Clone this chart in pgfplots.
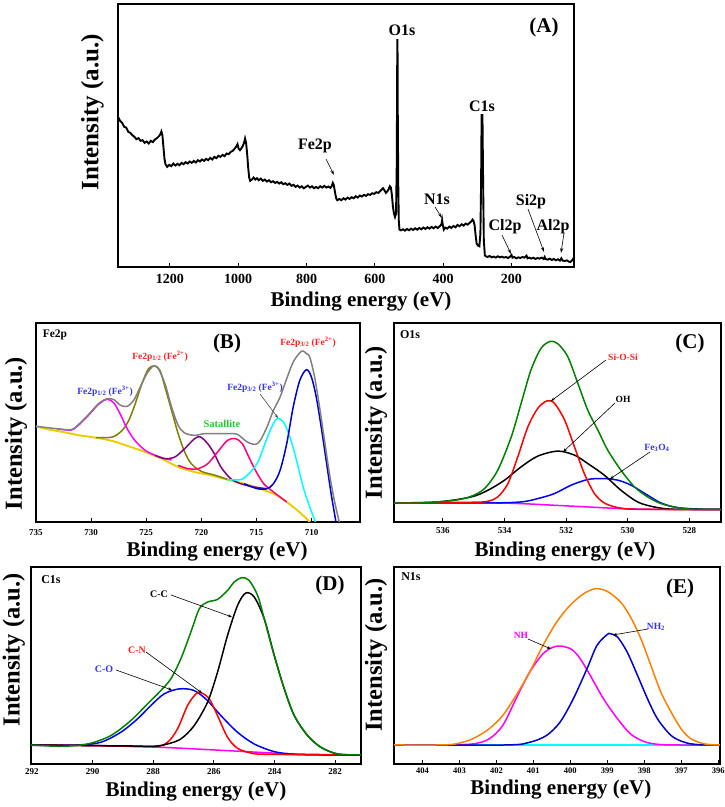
\documentclass[border=0pt]{standalone}
\usepackage{fontspec}
\setmainfont{Liberation Serif}
\usepackage{pgfplots}
\pgfplotsset{compat=1.18}
\usetikzlibrary{arrows.meta}

\definecolor{cgray}{RGB}{128,128,128}
\definecolor{colive}{RGB}{128,128,0}
\definecolor{cmag}{RGB}{255,0,255}
\definecolor{cpurple}{RGB}{128,0,128}
\definecolor{cpink}{RGB}{255,0,128}
\definecolor{ccyan}{RGB}{0,255,255}
\definecolor{cdblue}{RGB}{0,0,205}
\definecolor{cyel}{RGB}{238,205,0}
\definecolor{cgreen}{RGB}{0,128,0}
\definecolor{cred}{RGB}{255,0,0}
\definecolor{cblue}{RGB}{0,0,255}
\definecolor{corange}{RGB}{255,128,0}
\definecolor{lblue}{RGB}{50,50,255}
\definecolor{lred}{RGB}{255,30,30}
\definecolor{lgreen}{RGB}{40,200,40}

\pgfplotsset{
  panel/.style={
    scale only axis, anchor=south west,
    x dir=reverse, ytick=\empty,
    axis line style={line width=2.8pt},
    tick align=inside, xtick pos=bottom,
    major tick length=4pt, tick style={black, line width=1pt},
    /pgf/number format/assume math mode=true,
    /pgf/number format/set thousands separator={},
    xlabel={Binding energy (eV)}, ylabel={Intensity (a.u.)},
    xlabel style={font=\bfseries\fontsize{21}{24}\selectfont},
    ylabel style={font=\bfseries\fontsize{24.5}{27}\selectfont},
    ticklabel style={font=\bfseries\fontsize{9}{10}\selectfont},
    every axis plot/.append style={line width=1.5pt, mark=none},
  }
}

\begin{document}
\begin{tikzpicture}[x=1pt,y=1pt]
\path[use as bounding box] (0,0) rectangle (724,807);

% ---------------- (A) survey ----------------
\begin{axis}[panel, at={(118pt,540pt)}, width=456pt, height=263pt,
  xmin=17, xmax=1352, ymin=0, ymax=788,
  xtick={200,400,...,1200},
  ticklabel style={font=\bfseries\fontsize{14}{16}\selectfont},
  xticklabel style={yshift=-3.5pt},
  xlabel style={at={(axis description cs:0.533,0)}, anchor=center, yshift=-35pt},
  ylabel style={at={(axis description cs:-0.056,0.589)}, anchor=center, font=\bfseries\fontsize{25}{28}\selectfont},
]
\addplot[black, line width=1.9pt] coordinates {
(1352,450) (1346,438) (1340,432) (1334,420) (1328,418) (1322,405) (1316,402) (1310,395)
(1304,390) (1298,383) (1292,386) (1286,378) (1280,380) (1274,372) (1268,376) (1262,370)
(1256,378) (1250,374) (1244,382) (1238,386) (1232,392) (1228,398) (1225,406) (1222,395)
(1219,360) (1216,325) (1213,308) (1208,300) (1202,306) (1196,302) (1190,310) (1184,304)
(1178,309) (1172,305) (1166,312) (1160,308) (1154,314) (1148,310) (1142,316) (1136,312)
(1130,318) (1124,313) (1118,320) (1112,316) (1106,322) (1100,318) (1094,324) (1088,320)
(1082,327) (1076,322) (1070,330) (1064,326) (1058,333) (1052,330) (1046,336) (1040,332)
(1034,340) (1028,338) (1022,345) (1016,348) (1010,355) (1005,362) (1002,368) (999,355)
(995,350) (991,355) (987,362) (983,372) (980,385) (977,372) (974,340) (971,300)
(968,268) (965,258) (960,262) (955,268) (950,262) (945,266) (940,260) (934,265)
(928,258) (922,262) (916,256) (910,260) (904,254) (898,257) (892,252) (886,255)
(880,250) (874,254) (868,248) (862,251) (856,246) (850,250) (844,243) (838,246)
(832,240) (826,244) (820,238) (814,242) (808,236) (802,240) (796,244) (790,238)
(784,242) (778,236) (772,240) (766,236) (760,242) (754,238) (748,243) (742,238)
(736,241) (730,237) (726,243) (723,252) (721,248) (719,238) (716,220) (713,205)
(710,200) (704,204) (698,200) (692,206) (686,202) (680,208) (674,204) (668,209)
(662,206) (656,212) (650,208) (644,214) (638,211) (632,216) (626,213) (620,218)
(614,216) (608,221) (602,219) (596,224) (590,222) (584,228) (580,232) (576,236)
(572,230) (568,222) (564,226) (560,232) (556,242) (553,238) (550,215) (547,180)
(544,160) (541,150) (538,160) (536,300) (535,500) (534.3,680) (533.7,680) (533,480)
(531.5,250) (530,140) (528,112) (524,110) (518,113) (512,109) (506,114) (500,110)
(494,115) (488,111) (482,116) (476,112) (470,117) (464,113) (458,118) (452,114)
(446,119) (440,115) (434,120) (428,116) (422,121) (416,117) (410,122) (405,128)
(403,140) (401,125) (398,112) (394,118) (388,115) (382,121) (376,117) (370,123)
(364,119) (358,126) (352,122) (346,128) (340,124) (334,130) (328,127) (322,133)
(318,136) (314,142) (311,138) (308,125) (305,95) (302,70) (298,64) (294,62)
(291,100) (289,250) (287.5,455) (285,455) (283,250) (281,80) (278,35) (275,32)
(270,30) (264,33) (258,29) (252,31) (246,28) (240,32) (234,29) (228,31)
(222,28) (216,30) (210,27) (204,31) (200,36) (197,28) (192,30) (186,26)
(180,29) (174,27) (168,30) (162,28) (156,34) (153,26) (148,28) (142,25)
(136,28) (130,24) (124,27) (118,25) (112,28) (106,24) (103,30) (100,24)
(94,22) (88,25) (82,21) (76,24) (70,20) (64,23) (58,19) (54,26)
(50,19) (44,18) (38,20) (32,16) (28,15) (24,18) (20,24) (17,28)
};
\end{axis}

% ---------------- (B) Fe2p ----------------
\begin{axis}[panel, at={(36pt,285pt)}, width=324pt, height=199pt,
  xmin=705.6, xmax=735, ymin=0, ymax=597,
  xtick={710,715,...,735},
  xticklabel style={yshift=-4pt},
  xlabel style={at={(axis description cs:0.559,0)}, anchor=center, yshift=-30pt},
  ylabel style={at={(axis description cs:-0.062,0.445)}, anchor=center},
  every axis plot/.append style={smooth},
]
\addplot[cyel, line width=1.9pt] coordinates {
(735.00,287) (733.75,277) (732.55,270) (731.06,260) (729.57,253) (728.07,243) (726.58,227)
(725.09,210) (723.60,190) (722.10,165) (720.61,150) (719.12,140) (717.63,127) (716.13,115)
(714.64,100) (713.15,80) (712.25,60) (711.36,37) (710.61,15) (710.16,0)};
\addplot[colive] coordinates {
(729.57,253) (728.07,255) (727.18,275) (726.58,305) (725.99,355) (725.39,415) (724.79,460)
(724.25,468) (723.75,455) (723.30,405) (722.70,335) (722.10,265) (721.51,210) (720.91,175)
(720.01,152) (718.82,141) (717.63,128)};
\addplot[cmag] coordinates {
(733.15,280) (731.81,276) (731.06,293) (730.16,323) (729.27,355) (728.52,368) (727.93,357)
(727.33,322) (726.73,280) (725.99,243) (725.09,215) (724.19,200) (723.30,190) (722.70,186)};
\addplot[cpurple] coordinates {
(724.19,200) (723.30,190) (722.40,195) (721.51,220) (720.61,250) (720.07,255) (719.42,235)
(718.82,205) (718.22,165) (717.33,130) (716.43,115) (715.24,105) (714.04,100)};
\addplot[cpink] coordinates {
(722.10,170) (721.21,160) (720.31,160) (719.42,175) (718.52,210) (717.63,245) (716.88,250)
(716.28,235) (715.69,195) (715.09,155) (714.34,115) (713.45,90) (712.25,60)};
\addplot[ccyan] coordinates {
(717.63,127) (716.43,127) (715.84,140) (714.94,175) (714.34,225) (713.75,275) (713.15,310)
(712.55,300) (711.96,255) (711.36,185) (710.76,105) (710.16,45) (709.63,0)};
\addplot[cdblue] coordinates {
(716.13,115) (714.94,100) (714.04,100) (713.45,115) (712.85,155) (712.25,235) (711.66,345)
(711.06,425) (710.46,457) (710.01,435) (709.57,375) (709.12,285) (708.67,185) (708.22,85)
(707.78,0)};
\addplot[cgray] coordinates {
(735.00,287) (733.15,280) (731.81,277) (731.06,295) (730.16,325) (729.27,357) (728.52,370)
(727.93,367) (727.33,350) (726.73,347) (726.13,365) (725.54,405) (724.94,445) (724.34,468)
(723.90,460) (723.30,415) (722.70,345) (722.10,290) (721.51,267) (720.61,260) (719.72,265)
(718.82,265) (717.63,265) (716.73,263) (715.84,240) (715.09,233) (714.64,245) (714.04,285)
(713.45,335) (712.85,375) (712.25,430) (711.66,480) (711.06,508) (710.76,513) (710.46,505)
(710.16,495) (709.72,435) (709.27,345) (708.82,245) (708.37,145) (707.93,65) (707.48,0)};
\end{axis}

% ---------------- (C) O1s ----------------
\begin{axis}[panel, at={(394pt,285pt)}, width=327pt, height=199pt,
  xmin=526.97, xmax=537.59, ymin=0, ymax=595,
  xtick={528,530,...,536},
  xticklabel style={yshift=-2pt},
  xlabel style={at={(axis description cs:0.523,0)}, anchor=center, yshift=-30pt},
  ylabel style={at={(axis description cs:-0.055,0.50)}, anchor=center},
  every axis plot/.append style={smooth},
]
\addplot[cmag] coordinates {
(537.59,57) (534.54,57) (533.46,55) (532.38,50) (531.30,45) (530.22,40) (529.14,38) (526.97,37)};
\addplot[cblue] coordinates {
(537.59,57) (534.54,57) (533.46,60) (532.92,70) (532.38,85) (531.84,110) (531.30,127)
(530.81,130) (530.32,125) (529.89,110) (529.35,80) (528.92,57) (528.38,43) (527.51,38) (526.97,38)};
\addplot[black] coordinates {
(537.59,57) (536.16,60) (535.08,75) (534.54,95) (534.00,125) (533.46,165) (532.92,197)
(532.27,212) (531.73,200) (531.30,175) (530.76,140) (530.22,95) (529.68,60) (529.14,45)
(528.49,38) (526.97,38)};
\addplot[cred] coordinates {
(537.59,57) (535.08,59) (534.54,62) (534.22,75) (533.89,115) (533.57,195) (533.24,285)
(532.92,340) (532.62,362) (532.38,355) (532.05,305) (531.73,225) (531.41,145) (531.08,85)
(530.76,57) (530.32,43) (529.68,38) (526.97,37)};
\addplot[cgreen] coordinates {
(537.59,57) (536.70,57) (535.62,65) (535.08,77) (534.65,100) (534.22,155) (533.78,255)
(533.46,355) (533.14,455) (532.81,520) (532.51,540) (532.27,533) (531.95,495) (531.62,415)
(531.30,335) (530.97,275) (530.65,215) (530.22,155) (529.78,105) (529.35,75) (528.92,55)
(528.38,43) (527.84,38) (526.97,38)};
\end{axis}

% ---------------- (D) C1s ----------------
\begin{axis}[panel, at={(31pt,43pt)}, width=330pt, height=197pt,
  xmin=281.15, xmax=292.03, ymin=0, ymax=590,
  xtick={282,284,...,292},
  xticklabel style={yshift=-1pt},
  xlabel style={at={(axis description cs:0.5,0)}, anchor=center, yshift=-28pt},
  ylabel style={at={(axis description cs:-0.052,0.579)}, anchor=center},
  every axis plot/.append style={smooth},
]
\addplot[cmag] coordinates {
(292.03,57) (289.95,55) (287.75,50) (285.55,40) (283.35,30) (281.15,27)};
\addplot[cblue] coordinates {
(292.03,56) (290.49,57) (289.73,65) (289.07,95) (288.52,135) (288.08,175) (287.64,210)
(287.14,225) (286.65,220) (286.21,190) (285.77,145) (285.22,95) (284.67,60) (284.01,37)
(283.35,29) (282.47,27) (281.15,27)};
\addplot[cred] coordinates {
(292.03,57) (289.95,55) (287.97,53) (287.53,65) (287.20,105) (286.87,175) (286.59,210)
(286.41,213) (286.15,195) (285.88,145) (285.55,80) (285.22,47) (284.78,33) (284.23,29) (281.15,27)};
\addplot[black] coordinates {
(292.03,57) (289.95,55) (288.74,54) (287.97,53) (287.53,60) (287.09,75) (286.65,115)
(286.21,185) (285.88,275) (285.55,385) (285.22,475) (284.95,512) (284.67,500) (284.34,435)
(284.01,325) (283.68,225) (283.35,145) (282.91,85) (282.47,50) (281.92,30) (281.15,27)};
\addplot[cgreen] coordinates {
(292.03,57) (291.04,53) (290.16,60) (289.40,85) (288.74,130) (288.19,180) (287.75,220)
(287.42,255) (287.09,315) (286.76,395) (286.48,465) (286.21,485) (285.88,493) (285.55,520)
(285.33,545) (285.08,558) (284.84,550) (284.56,505) (284.34,435) (284.01,325) (283.68,225)
(283.35,145) (282.91,85) (282.47,50) (281.92,30) (281.15,27)};
\end{axis}

% ---------------- (E) N1s ----------------
\begin{axis}[panel, at={(394pt,43pt)}, width=326pt, height=197pt,
  xmin=395.95, xmax=404.77, ymin=0, ymax=590,
  xtick={396,397,...,404},
  ticklabel style={font=\bfseries\fontsize{8.5}{10}\selectfont},
  xlabel style={at={(axis description cs:0.512,0)}, anchor=center, yshift=-26pt},
  ylabel style={at={(axis description cs:-0.055,0.553)}, anchor=center},
  every axis plot/.append style={smooth},
]
\addplot[ccyan] coordinates {(404.77,57) (395.95,57)};
\addplot[cmag] coordinates {
(404.77,57) (403.56,57) (402.65,60) (402.20,75) (401.83,115) (401.47,195) (401.10,275)
(400.74,330) (400.46,350) (400.24,353) (399.96,343) (399.73,315) (399.46,265) (399.10,195)
(398.72,135) (398.37,90) (398.00,67) (397.64,59) (397.18,57) (395.95,57)};
\addplot[cdblue] coordinates {
(404.77,57) (401.74,57) (401.10,65) (400.65,85) (400.28,125) (399.92,195) (399.55,285)
(399.28,355) (399.00,388) (398.91,390) (398.72,380) (398.46,335) (398.18,265) (397.91,195)
(397.64,135) (397.27,85) (396.91,65) (396.54,58) (395.95,57)};
\addplot[corange] coordinates {
(404.77,57) (403.56,57) (403.11,60) (402.65,75) (402.20,105) (401.83,145) (401.47,205)
(401.10,275) (400.74,355) (400.37,425) (400.01,475) (399.64,510) (399.32,525) (399.00,517)
(398.64,485) (398.37,440) (398.09,375) (397.82,295) (397.55,215) (397.27,155) (397.00,105)
(396.73,75) (396.36,60) (395.95,57)};
\end{axis}

% ---------------- annotations ----------------
\begin{scope}[every node/.style={font=\bfseries\fontsize{16}{18}\selectfont, inner sep=0pt}]
\node at (544,780) {\fontsize{21}{23}\selectfont (A)};
\node at (402,777) {O1s};
\node at (482,701) {C1s};
\node at (315,661) {Fe2p};
\node at (437,608) {N1s};
\node at (505,580) {Cl2p};
\node at (531,605) {Si2p};
\node at (553,580) {Al2p};
\end{scope}
\begin{scope}[line width=0.6pt, -{Stealth[length=5pt,width=3pt]}]
\draw (326,648) -- (334,632);
\draw (435,600) -- (442,589);
\draw (502,572) -- (511,553);
\draw (528,598) -- (544,555);
\draw (564,574) -- (561,554);
\end{scope}

% B
\begin{scope}[every node/.style={font=\bfseries\fontsize{9.5}{11}\selectfont, inner sep=0pt}]
\node at (55,472) {\fontsize{11.5}{13}\selectfont Fe2p};
\node at (227,464) {\fontsize{21}{23}\selectfont (B)};
\node[text=lblue] at (105,416) {Fe2p\textsubscript{1/2} (Fe\textsuperscript{3+})};
\node[text=lred] at (160,451) {Fe2p\textsubscript{1/2} (Fe\textsuperscript{2+})};
\node[text=lblue] at (255,420) {Fe2p\textsubscript{3/2} (Fe\textsuperscript{3+})};
\node[text=lred] at (308,465) {Fe2p\textsubscript{3/2} (Fe\textsuperscript{2+})};
\node[text=lgreen] at (222,383) {\fontsize{10.5}{12}\selectfont Satallite};
% C
\node at (410,472) {\fontsize{12}{13}\selectfont O1s};
\node at (690,464) {\fontsize{21}{23}\selectfont (C)};
\node[text=lred] at (623,450) {Si-O-Si};
\node at (623,408) {OH};
\node[text=lblue] at (657,359) {Fe\textsubscript{3}O\textsubscript{4}};
% D
\node at (51,227) {\fontsize{12}{13}\selectfont C1s};
\node at (330,222) {\fontsize{21}{23}\selectfont (D)};
\node at (159,213) {\fontsize{10}{12}\selectfont C-C};
\node[text=lred] at (137,157) {\fontsize{10}{12}\selectfont C-N};
\node[text=lblue] at (104,138) {\fontsize{10}{12}\selectfont C-O};
% E
\node at (411,230) {\fontsize{12}{13}\selectfont N1s};
\node at (680,219) {\fontsize{21}{23}\selectfont (E)};
\node[text=cmag] at (521,172) {NH};
\node[text=lblue] at (656,180) {NH\textsubscript{2}};
\end{scope}
\begin{scope}[line width=0.6pt, -{Stealth[length=4pt,width=3pt]}]
\draw[black!70] (260,413) -- (278,389);
\draw (606,447) -- (551,406);
\draw (615,404) -- (563,355);
\draw (650,355) -- (610,328);
\draw (171,212) -- (232,190);
\draw (146,155) -- (202,114);
\draw (116,137) -- (172,117);
\draw (528,168) -- (551,158);
\draw (648,178) -- (613,172);
\end{scope}
\end{tikzpicture}
\end{document}
